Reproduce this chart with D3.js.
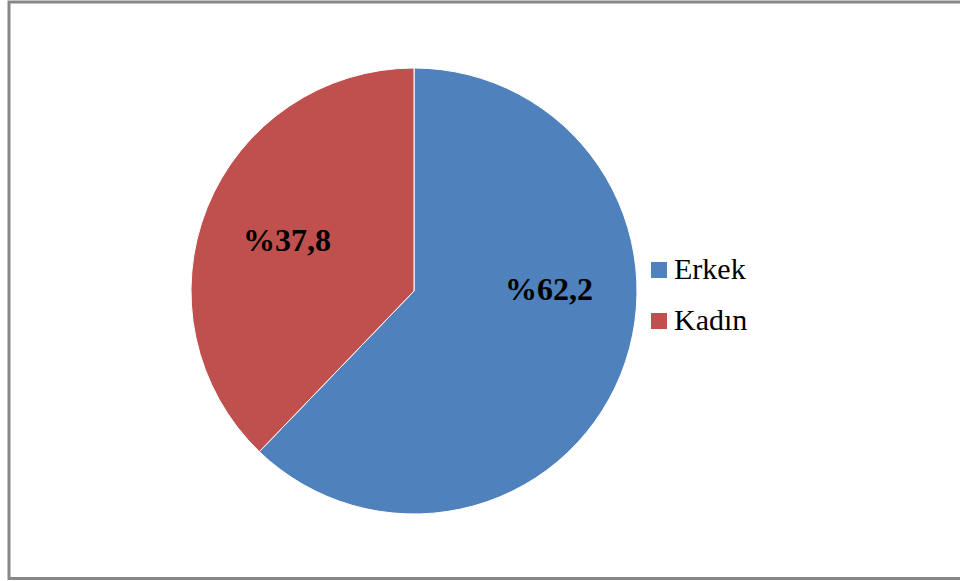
<!DOCTYPE html>
<html lang='tr'>
<head>
  <meta charset='UTF-8'>
  <title>Cinsiyet</title>
  <style>
    body { margin: 0; background: #fff; }
  </style>
</head>
<body>
  <script src='https://cdn.jsdelivr.net/npm/d3@7/dist/d3.min.js'></script>
  <script>
// veri
const categories = ['Erkek', 'Kadın'];
const values = [62.2, 37.8];
const labels = ['%62,2', '%37,8'];
const colors = ['#4F81BD', '#C0504D'];

const width = 960;
const height = 581;

const svg = d3.select('body')
  .append('svg')
  .attr('width', width)
  .attr('height', height);

// çerçeve
svg.append('rect')
  .attr('x', 9)
  .attr('y', 2)
  .attr('width', width)
  .attr('height', 576.5)
  .attr('fill', '#fff')
  .attr('stroke', '#878787')
  .attr('stroke-width', 3);

const cx = 414, cy = 291, radius = 223;

const pie = d3.pie().sort(null).value(d => d);
const piedata = pie(values);

const arc = d3.arc().innerRadius(0).outerRadius(radius);
const labelArc = d3.arc().innerRadius(137).outerRadius(137);
// Excel etiket yerleşimi için küçük kaydırmalar
const labelShift = [[8, -53], [0, 0]];

const g = svg.append('g')
  .attr('transform', 'translate(' + cx + ',' + cy + ')');

g.selectAll('path')
  .data(piedata)
  .enter()
  .append('path')
  .attr('d', arc)
  .attr('fill', (d, i) => colors[i])
  .attr('stroke', '#fff')
  .attr('stroke-width', 1);

g.selectAll('text')
  .data(piedata)
  .enter()
  .append('text')
  .attr('transform', (d, i) => {
    const c = labelArc.centroid(d);
    return 'translate(' + (c[0] + labelShift[i][0]) + ',' + (c[1] + labelShift[i][1]) + ')';
  })
  .attr('text-anchor', 'middle')
  .attr('dy', '0.35em')
  .style('font-family', '"Liberation Serif", "Times New Roman", serif')
  .style('font-weight', 'bold')
  .style('font-size', '32px')
  .attr('fill', '#000')
  .text((d, i) => labels[i]);

// lejant
const legend = svg.append('g')
  .attr('transform', 'translate(651,262)');

const item = legend.selectAll('g')
  .data(categories)
  .enter()
  .append('g')
  .attr('transform', (d, i) => 'translate(0,' + (i * 51) + ')');

item.append('rect')
  .attr('width', 16)
  .attr('height', 16)
  .attr('fill', (d, i) => colors[i]);

item.append('text')
  .attr('x', 23)
  .attr('y', 17)
  .style('font-family', '"Liberation Serif", "Times New Roman", serif')
  .style('font-size', '30px')
  .attr('fill', '#000')
  .text(d => d);
  </script>
</body>
</html>
